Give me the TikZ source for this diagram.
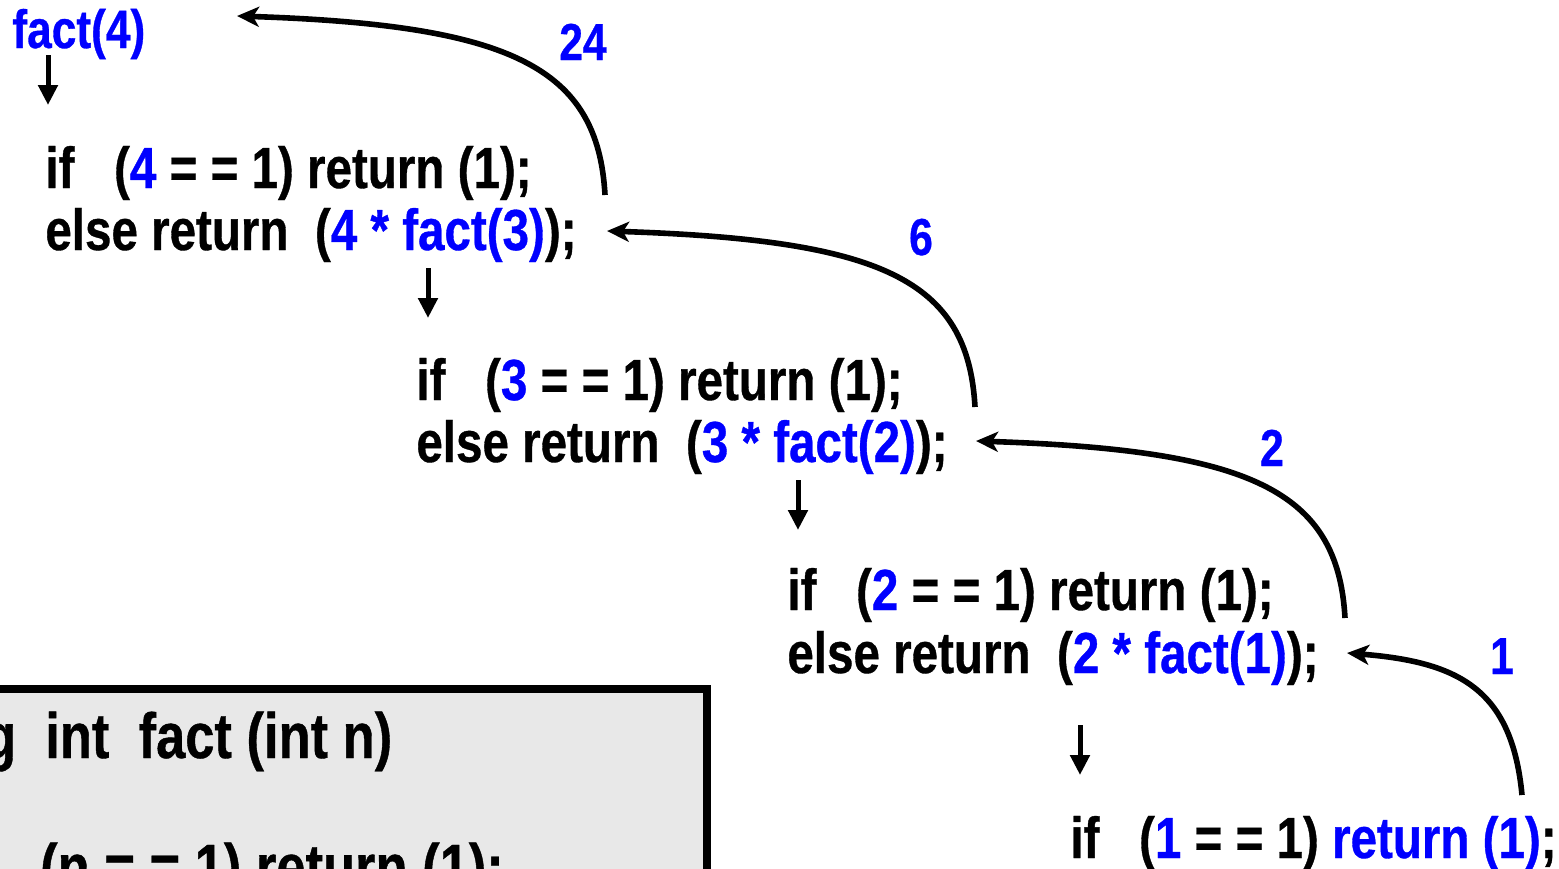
\documentclass[tikz,border=0pt]{standalone}
\usepackage{fontspec}
\usepackage{xcolor}
\usetikzlibrary{arrows.meta}
\newfontfamily\codefont{Liberation Sans}[FakeStretch=0.82, FakeBold=0.6]
\definecolor{boxgray}{HTML}{E8E8E8}
\newcommand{\bl}[1]{{\color{blue}#1}}

\begin{document}
\begin{tikzpicture}[
      x=0.5pt, y=-0.5pt,
      code/.style={anchor=base west, inner sep=0pt, font=\codefont\bfseries\fontsize{29}{31}\selectfont},
      boxcode/.style={anchor=base west, inner sep=0pt, font=\codefont\bfseries\fontsize{32}{36}\selectfont},
      lbl/.style={anchor=base, inner sep=0pt, text=blue, font=\codefont\bfseries\fontsize{26}{30}\selectfont},
      ret/.style={-{Stealth[length=11pt,width=10pt,inset=3pt]}, line width=2.8pt},
      dn/.style={-{Triangle[length=10pt,width=9.5pt]}, line width=2.5pt}
    ]
      \useasboundingbox (0,0) rectangle (1559,868);
      \clip (0,0) rectangle (1559,868);

      % code box, cut by the page edge
      \filldraw[fill=boxgray, draw=black, line width=4pt] (-30,689) rectangle (707,920);
      \node[boxcode] (hd) at (-95,758) {long\ \ int\ \ fact (int n)};
      \node[boxcode] (bd) at (-36,889) {if\ \ \ (n = = 1) return (1);};

      % calls
      \node[code, text=blue, font=\codefont\bfseries\fontsize{27}{30}\selectfont] (f4) at (12,48) {fact(4)};
      \node[code] (i1) at (45,188) {if\ \ \ (\bl{4} = = 1) return (1);};
      \node[code] (e1) at (45,250) {else return\ \ (\bl{4 * fact(3)});};
      \node[code] (i2) at (416,400) {if\ \ \ (\bl{3} = = 1) return (1);};
      \node[code] (e2) at (416,462) {else return\ \ (\bl{3 * fact(2)});};
      \node[code] (i3) at (787,610) {if\ \ \ (\bl{2} = = 1) return (1);};
      \node[code] (e3) at (787,673) {else return\ \ (\bl{2 * fact(1)});};
      \node[code] (i4) at (1070,858) {if\ \ \ (\bl{1} = = 1) \bl{return (1)};};

      % results
      \node[lbl] (v24) at (583,60) {24};
      \node[lbl] (v6) at (921,255) {6};
      \node[lbl] (v2) at (1272,466) {2};
      \node[lbl] (v1) at (1502,674) {1};

      % going down
      \draw[dn] ([shift={(36,7)}]f4.base west) -- ++(0,50);
      \draw[dn] ([shift={(383,18)}]e1.base west) -- ++(0,50);
      \draw[dn] ([shift={(382,18)}]e2.base west) -- ++(0,50);
      \draw[dn] ([shift={(293,52)}]e3.base west) -- ++(0,50);

      % coming back
      \draw[ret] ([shift={(452,-63)}]i4.base west) .. controls +(-10,-105) and +(113,9) .. ([shift={(560,-20)}]e3.base west);
      \draw[ret] ([shift={(558,8)}]i3.base west) .. controls +(-7,-128) and +(274,9) .. ([shift={(560,-21)}]e2.base west);
      \draw[ret] ([shift={(559,7)}]i2.base west) .. controls +(-7,-128) and +(274,9) .. ([shift={(562,-19)}]e1.base west);
      \draw[ret] ([shift={(560,7)}]i1.base west) .. controls +(-7,-128) and +(274,9) .. ([shift={(225,-32)}]f4.base west);
    \end{tikzpicture}
\end{document}
